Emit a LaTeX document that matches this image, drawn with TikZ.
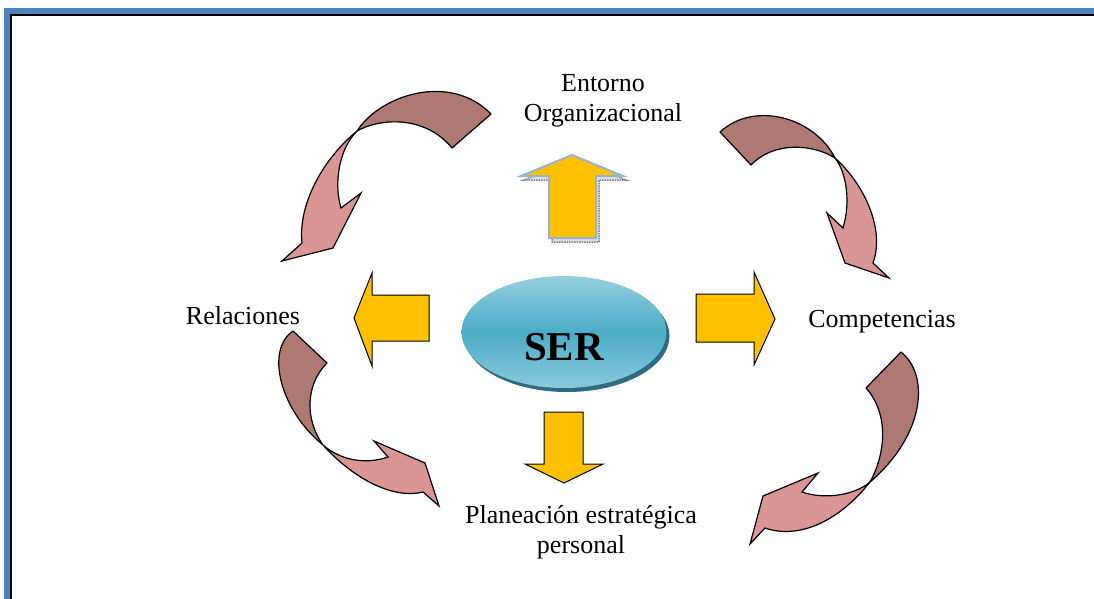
\documentclass[tikz,border=0pt]{standalone}
\usepackage{fontspec}
\setmainfont{Liberation Serif}
\usetikzlibrary{positioning, shapes.geometric}
\definecolor{framebg}{HTML}{4F81BD}
\definecolor{arrowyellow}{HTML}{FFC000}
\definecolor{arrowedge}{HTML}{95B3D7}
\definecolor{taildark}{HTML}{AE7873}
\definecolor{headlight}{HTML}{D99694}
\definecolor{sertop}{HTML}{96CFDF}
\definecolor{sermid}{HTML}{4BACC6}
\definecolor{sershadow}{HTML}{2F6B7E}

\begin{document}
\begin{tikzpicture}[x=1pt, y=-1pt,
  label/.style={font=\fontsize{26}{30}\selectfont, align=center, inner sep=0pt},
  blockarrow/.style={draw=black, line width=1pt, fill=arrowyellow, line join=miter},
  tailpart/.style={draw=black, line width=1.2pt, fill=taildark, line join=round},
  headpart/.style={draw=black, line width=1.2pt, fill=headlight, line join=miter}
]
\useasboundingbox (0,0) rectangle (1094,598);

% Marco
\draw[framebg!55, line width=1pt] (4,600) -- (4,8) -- (1100,8);
\draw[framebg, line width=6pt] (7,600) -- (7,11) -- (1100,11);
\draw[black, line width=2pt] (11,600) -- (11,15) -- (1100,15);

% Centro
\node[ellipse, fill=sershadow, minimum width=205pt, minimum height=112pt] (sershade) at (567,336) {};
\node[ellipse, top color=sertop, bottom color=sertop!85!sermid, middle color=sermid,
      minimum width=205pt, minimum height=112pt] (ser) at (564,332) {};
\node[font=\bfseries\fontsize{41}{48}\selectfont] (sertext) at ([yshift=-15pt]ser.center) {SER};

% Textos
\node[label] (entorno) at (603,101) {Entorno\\Organizacional};
\node[label] (relaciones) at (243,316) {Relaciones};
\node[label] (competencias) at (882,322) {Competencias};
\node[label] (planeacion) at (581,532) {Planeación estratégica\\personal};

% Flechas amarillas
\draw[gray, densely dotted, line width=1.5pt, fill=gray!25]
  (575,159) -- (626,180) -- (599,180) -- (599,242) -- (552,242) -- (552,180) -- (524,180) -- cycle;
\draw[arrowedge, line width=2pt, fill=arrowyellow, line join=miter]
  (572,155) -- (623,176) -- (596,176) -- (596,238) -- (549,238) -- (549,176) -- (521,176) -- cycle;
\draw[blockarrow] (354,318) -- (372,273) -- (372,295) -- (429,295) -- (429,341) -- (372,341) -- (372,366) -- cycle;
\draw[blockarrow] (775,319) -- (754,272) -- (754,294) -- (696,294) -- (696,342) -- (754,342) -- (754,365) -- cycle;
\draw[blockarrow] (564,483) -- (525,464) -- (544,464) -- (544,412) -- (583,412) -- (583,464) -- (603,464) -- cycle;

% Flechas curvas: arriba izquierda
\draw[tailpart] (357,131) .. controls (380,95) and (450,72) .. (491,114) -- (452,148)
  .. controls (425,115) and (380,118) .. (357,131) -- cycle;
\draw[headpart] (357,131) .. controls (322,160) and (298,205) .. (302,243) -- (282,261) -- (333,248)
  -- (361,193) -- (341,208) .. controls (334,185) and (338,150) .. (357,131) -- cycle;

% arriba derecha
\draw[tailpart] (835,158) .. controls (815,118) and (755,100) .. (720,132) -- (751,165)
  .. controls (775,140) and (815,145) .. (835,158) -- cycle;
\draw[headpart] (835,158) .. controls (865,185) and (885,230) .. (873,263) -- (889,278) -- (845,263)
  -- (827,213) -- (843,228) .. controls (850,205) and (848,175) .. (835,158) -- cycle;

% abajo izquierda
\draw[tailpart] (293,331) .. controls (265,350) and (280,410) .. (323,445)
  .. controls (305,420) and (305,385) .. (327,363) -- cycle;
\draw[headpart] (323,445) .. controls (350,475) and (390,500) .. (423,492) -- (439,506) -- (425,463)
  -- (374,441) -- (388,457) .. controls (365,465) and (340,460) .. (323,445) -- cycle;

% abajo derecha
\draw[tailpart] (901,352) .. controls (930,375) and (925,435) .. (870,482)
  .. controls (885,455) and (890,415) .. (866,388) -- cycle;
\draw[headpart] (870,482) .. controls (840,520) and (800,540) .. (765,528) -- (750,544) -- (763,496)
  -- (818,473) -- (802,492) .. controls (825,500) and (855,495) .. (870,482) -- cycle;
\end{tikzpicture}
\end{document}
